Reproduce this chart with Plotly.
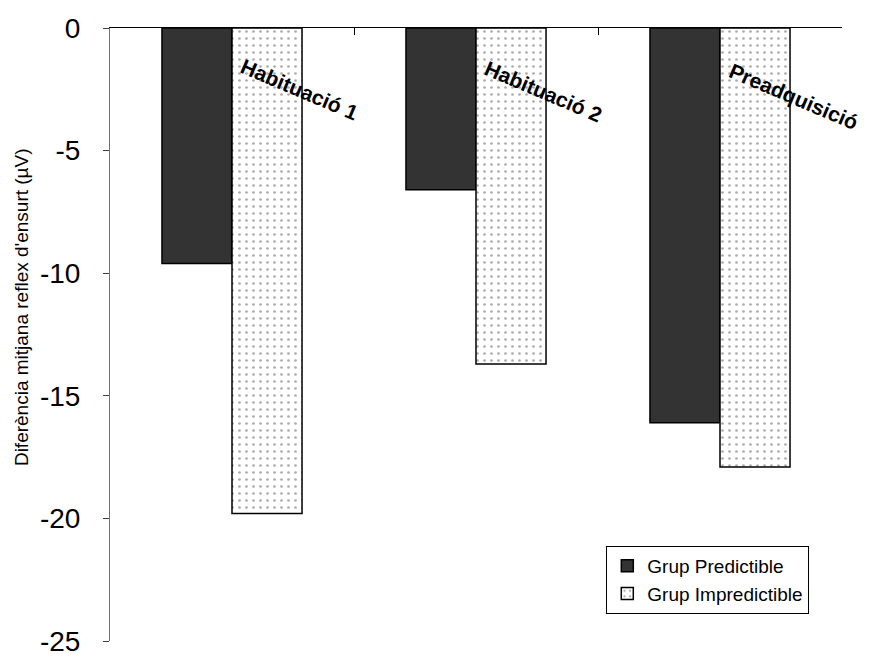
import plotly.graph_objects as go

# Mean startle-reflex difference per phase and group
phases = ["Habituació 1", "Habituació 2", "Preadquisició"]
predictible = [-9.6, -6.6, -16.1]
impredictible = [-19.8, -13.7, -17.9]
y_ticks = [0, -5, -10, -15, -20, -25]
y_tick_text = ["0", "-5", "-10", "-15", "-20", "-25"]

FONT = "Liberation Sans, Arial, sans-serif"
xpos = list(range(len(phases)))

fig = go.Figure()
fig.add_trace(go.Bar(
    x=xpos, y=predictible, name="Grup Predictible",
    marker=dict(color="#333333", line=dict(color="black", width=1.5)),
    legendgroup="a",
))
fig.add_trace(go.Bar(
    x=xpos, y=impredictible, name="Grup Impredictible",
    marker=dict(
        color="white",
        line=dict(color="black", width=1.5),
        pattern=dict(shape=".", fgcolor="#555555", bgcolor="white",
                     size=7, solidity=0.12),
    ),
    legendgroup="b",
))

# Rotated category labels hanging below the zero line
shifts = [(3, -24), (3, -26), (3, -28)]
for i, name in enumerate(phases):
    fig.add_annotation(
        x=i, y=0, xref="x", yref="y", text="<b>%s</b>" % name,
        textangle=23, showarrow=False, xanchor="left", yanchor="top",
        xshift=shifts[i][0], yshift=shifts[i][1],
        font=dict(family=FONT, size=21, color="black"),
    )

fig.add_annotation(
    x=-0.12, y=0.545, xref="paper", yref="paper",
    text="Diferència mitjana reflex d'ensurt (µV)", textangle=-90,
    showarrow=False, xanchor="center", yanchor="middle",
    font=dict(family=FONT, size=19, color="black"),
)

fig.update_layout(
    width=874, height=658,
    margin=dict(l=110, r=32, t=28, b=17, autoexpand=False),
    paper_bgcolor="white", plot_bgcolor="white",
    barmode="group", bargap=0.426, bargroupgap=0,
    font=dict(family=FONT, color="black"),
    legend=dict(
        x=0.678, y=0.155, xanchor="left", yanchor="top",
        bordercolor="black", borderwidth=1, bgcolor="white",
        font=dict(family=FONT, size=19, color="black"),
        tracegroupgap=6, traceorder="normal",
    ),
    xaxis=dict(
        range=[-0.5, 2.5], side="top", showgrid=False, zeroline=False,
        showline=True, linecolor="black", linewidth=1,
        tickvals=[0.5, 1.5, 2.5], ticks="inside", ticklen=7,
        tickcolor="black", showticklabels=False, automargin=False,
    ),
    yaxis=dict(
        range=[-25, 0], showgrid=False, zeroline=False,
        showline=True, linecolor="#707070", linewidth=1,
        tickvals=y_ticks, ticktext=y_tick_text,
        ticks="outside", ticklen=6, tickcolor="#404040",
        ticklabelstandoff=17, ticklabeloverflow="allow", automargin=False,
        tickfont=dict(family=FONT, size=28, color="black"),
    ),
)

fig.write_html("out.html")
